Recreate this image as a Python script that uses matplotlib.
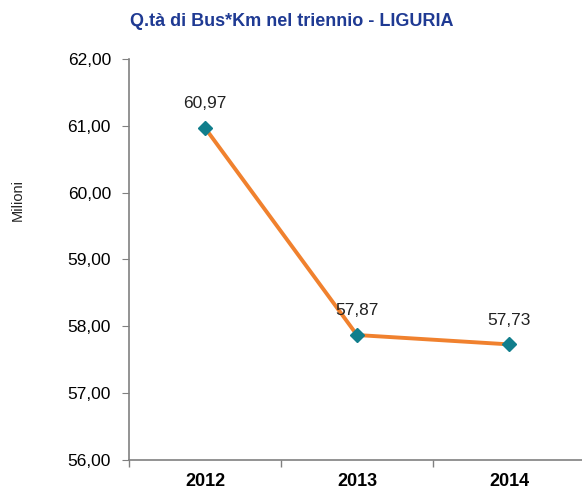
import matplotlib.pyplot as plt
from matplotlib.ticker import FixedLocator, FuncFormatter

plt.rcParams['font.family'] = ['Liberation Sans', 'DejaVu Sans']

# --- Data ---
years = ['2012', '2013', '2014']
values = [60.97, 57.87, 57.73]
y_ticks = [56, 57, 58, 59, 60, 61, 62]

W, H = 582, 490
fig = plt.figure(figsize=(W / 100, H / 100), dpi=100)
ax = fig.add_axes([129 / W, 30 / H, (585 - 129) / W, (460 - 59) / H])

x = list(range(len(years)))
ax.plot(x, values, color='#F0812E', linewidth=2.8, zorder=2)
ax.plot(x, values, linestyle='none', marker='D', markersize=7,
        color='#117E8C', zorder=3)

for xi, v in zip(x, values):
    ax.annotate(f'{v:.2f}'.replace('.', ','), (xi, v), xytext=(0, 12),
                textcoords='offset points', ha='center', va='bottom',
                fontsize=12.5, color='#222222')

ax.set_xlim(-0.5, 2.5)
ax.set_ylim(56, 62)
ax.set_yticks(y_ticks)
ax.yaxis.set_major_formatter(FuncFormatter(lambda v, p: f'{v:.2f}'.replace('.', ',')))
ax.set_xticks(x)
ax.set_xticklabels(years, fontweight='bold', fontsize=13)
ax.xaxis.set_minor_locator(FixedLocator([-0.5, 0.5, 1.5]))
ax.tick_params(axis='x', which='major', length=0, pad=9)
ax.tick_params(axis='x', which='minor', length=5, color='#808080', width=1)
ax.tick_params(axis='y', length=5, color='#808080', labelsize=12.5, pad=8)

for s in ['top', 'right']:
    ax.spines[s].set_visible(False)
for s in ['left', 'bottom']:
    ax.spines[s].set_color('#808080')
    ax.spines[s].set_linewidth(1.2)

fig.text(18 / W, 1 - 200 / H, 'Milioni', rotation=90, ha='center', va='center',
         fontsize=10.5, color='#222222')
fig.text(292 / W, 1 - 22 / H, 'Q.tà di Bus*Km nel triennio - LIGURIA',
         ha='center', va='center', fontsize=13, fontweight='bold', color='#1F3A93')

fig.savefig('out.png', dpi=100)
